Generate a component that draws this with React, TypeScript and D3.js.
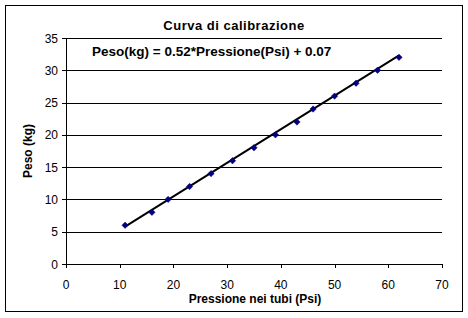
import React from "react";
import * as d3 from "d3";

const pressione = [11, 16, 19, 23, 27, 31, 35, 39, 43, 46, 50, 54, 58, 62];
const peso = [6, 8, 10, 12, 14, 16, 18, 20, 22, 24, 26, 28, 30, 32];
const xTicks = [0, 10, 20, 30, 40, 50, 60, 70];
const yTicks = [0, 5, 10, 15, 20, 25, 30, 35];
const slope = 0.52;
const intercept = 0.07;
const title = "Curva di calibrazione";
const equation = "Peso(kg) = 0.52*Pressione(Psi) + 0.07";
const xLabel = "Pressione nei tubi (Psi)";
const yLabel = "Peso (kg)";

export default function App() {
  const W = 468, H = 318;
  const x = d3.scaleLinear().domain([0, 70]).range([66, 442]);
  const y = d3.scaleLinear().domain([0, 35]).range([264, 38]);
  const font = "Arial, 'Liberation Sans', sans-serif";
  const xMin = d3.min(pressione) as number;
  const xMax = d3.max(pressione) as number;
  const trend = d3.line<number>().x((v) => x(v)).y((v) => y(slope * v + intercept));
  const diamond = d3.symbol().type((d3 as any).symbolDiamond2 || d3.symbolDiamond).size(26)();
  return (
    <svg width={W} height={H} style={{ position: "absolute", left: 0, top: 0 }}>
      <rect x={0} y={0} width={W} height={H} fill="#fff" />
      <rect x={5.5} y={5.5} width={457} height={306} fill="none" stroke="#000" strokeWidth={1} />
      <text x={234} y={30} textAnchor="middle" fontFamily={font} fontSize={13} letterSpacing={0.5} fontWeight="bold">{title}</text>
      {yTicks.filter((t) => t > 0).map((t) => (
        <line key={"g" + t} x1={x(0)} x2={x(70)} y1={Math.round(y(t)) + 0.5} y2={Math.round(y(t)) + 0.5} stroke="#000" />
      ))}
      <line x1={x(0) + 0.5} x2={x(0) + 0.5} y1={y(35)} y2={y(0)} stroke="#000" />
      <line x1={x(0)} x2={x(70)} y1={y(0) + 0.5} y2={y(0) + 0.5} stroke="#000" />
      {yTicks.map((t) => (
        <g key={"y" + t}>
          <line x1={x(0) - 4} x2={x(0)} y1={Math.round(y(t)) + 0.5} y2={Math.round(y(t)) + 0.5} stroke="#000" />
          <text x={58} y={y(t) + 4.5} textAnchor="end" fontFamily={font} fontSize={12}>{t}</text>
        </g>
      ))}
      {xTicks.map((t) => (
        <g key={"x" + t}>
          <line x1={Math.round(x(t)) + 0.5} x2={Math.round(x(t)) + 0.5} y1={y(0)} y2={y(0) + 4} stroke="#000" />
          <text x={x(t)} y={y(0) + 25} textAnchor="middle" fontFamily={font} fontSize={12}>{t}</text>
        </g>
      ))}
      <text x={255} y={303} textAnchor="middle" fontFamily={font} fontSize={12} fontWeight="bold">{xLabel}</text>
      <text transform={`translate(32,151) rotate(-90)`} textAnchor="middle" fontFamily={font} fontSize={12} fontWeight="bold">{yLabel}</text>
      <path d={trend([xMin, xMax]) || ""} stroke="#000" strokeWidth={2} fill="none" />
      {pressione.map((p, i) => (
        <path key={"p" + i} d={diamond || ""} transform={`translate(${x(p)},${y(peso[i])})`} fill="#000080" stroke="#000080" strokeWidth={0.5} />
      ))}
      <text x={92} y={56} fontFamily={font} fontSize={13.5} fontWeight="bold">{equation}</text>
    </svg>
  );
}
